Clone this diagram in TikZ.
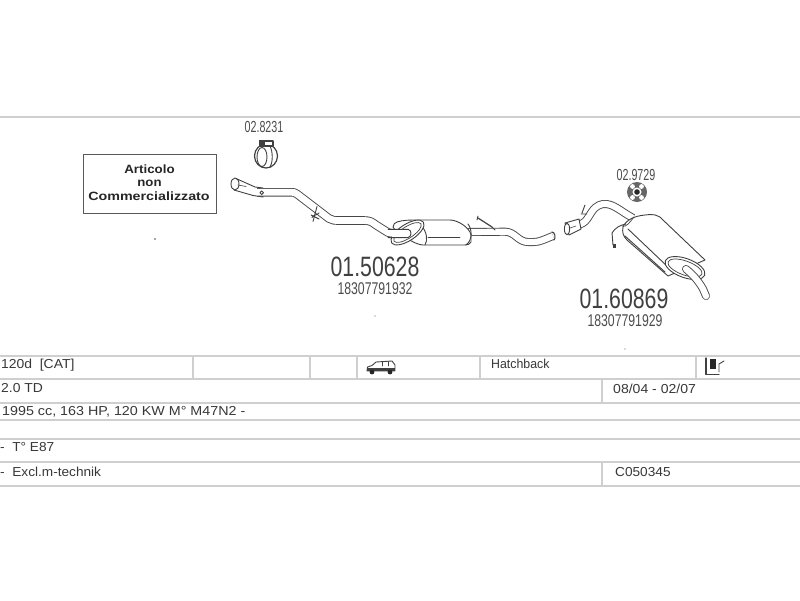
\documentclass[tikz,border=0pt]{standalone}
\usepackage{fontspec}
\setmainfont{Liberation Sans}
\newcommand{\sqz}[2]{\scalebox{#1}[1]{#2}}
\tikzset{
 rule/.style={draw=black!19,line width=1.8pt},
 ink/.style={draw=black!75,line width=.9pt,line cap=round,line join=round},
 cell/.style={anchor=west,inner sep=0pt,text=black!78,font=\fontsize{13}{14}\selectfont},
 part/.style={inner sep=0pt,text=black!75,font=\fontsize{28}{28}\selectfont},
 oem/.style={inner sep=0pt,text=black!70,font=\fontsize{17}{17}\selectfont},
 small/.style={inner sep=0pt,text=black!70,font=\fontsize{16}{18}\selectfont},
 boxt/.style={inner sep=0pt,text=black!85,font=\bfseries\fontsize{12}{13}\selectfont},
 pipeo/.style={draw=black!72,line width=8.6pt,line cap=butt,line join=round},
 pipei/.style={draw=white,line width=6.8pt,line cap=butt,line join=round},
 pipeor/.style={draw=black!72,line width=8pt,line cap=round,line join=round},
 pipeir/.style={draw=white,line width=6.2pt,line cap=round,line join=round},
 body/.style={ink,fill=white},
}
\begin{document}
\begin{tikzpicture}[x=1pt,y=-1pt]
\useasboundingbox (0,0) rectangle (800,600);
\fill[white] (0,0) rectangle (800,600);
% rules
\draw[rule] (0,117) -- (800,117);
\foreach \y in {356,379,403,420,439,462,486} \draw[rule] (0,\y) -- (800,\y);
\foreach \x in {193,310,357,480,696} \draw[rule] (\x,356) -- (\x,379);
\draw[rule] (602,379) -- (602,403);
\draw[rule] (602,462) -- (602,486);
% notice box
\node[draw=black!65,line width=1pt,minimum width=133pt,minimum height=59pt,inner sep=0pt] (notice) at (149.5,183.5) {};
\node[boxt] (n1) at (149.5,169) {\sqz{1.11}{Articolo}};
\node[boxt] (n2) at (149.5,183) {\sqz{1.1}{non}};
\node[boxt] (n3) at (149,196.5) {\sqz{1.19}{Commercializzato}};
\fill[black!70] (155,239) circle (.9);
\fill[black!60] (375,316) circle (.7);
\fill[black!60] (625,349) circle (.7);
% labels
\node[small] (c1) at (264,127) {\sqz{.67}{02.8231}};
\node[small] (c2) at (636,175) {\sqz{.67}{02.9729}};
\node[part] (p1) at (375,267) {\sqz{.76}{01.50628}};
\node[oem] (o1) at (375,289) {\sqz{.72}{18307791932}};
\node[part] (p2) at (624,299) {\sqz{.76}{01.60869}};
\node[oem] (o2) at (625,321) {\sqz{.72}{18307791929}};
% flange
\draw[body] (236,178.5) -- (255,187) -- (263,188) -- (263,197) -- (253,195.5) -- (234,190) -- cycle;
% front pipe
\def\pa{(257,192.3) -- (290,192.3) .. controls (294,192.3) and (295,192.5) .. (297,194) -- (329,218.5) .. controls (332,220.5) and (335,220.5) .. (340,220.5) -- (364,220.5) .. controls (370,220.5) and (372,222) .. (376,225) -- (388,232.5) .. controls (391,234) and (394,233.5) .. (400,233.5)}
\draw[pipeo] \pa; \draw[pipei] \pa;
\def\pb{(468,232) -- (505,231.7) .. controls (515,231.7) and (518,242) .. (528,242) -- (534,242) .. controls (540,242) and (545,239) .. (553,236)}
\draw[pipeo,line width=8pt] \pb; \draw[pipei,line width=6.2pt] \pb;
\draw[ink,line width=1.1pt] (551.8,232) .. controls (555,231.5) and (556,238.5) .. (554,240);
\draw[body] (235,184) ellipse[x radius=4,y radius=6];
\draw[ink,line width=.6pt] (238,185) -- (246,186.5);
\draw[body] (261.7,192.7) circle (1.8);
% hanger 1
\draw[ink] (317,206.5) -- (313,221.5);
\draw[ink] (312,217.5) .. controls (314,214) and (316,216) .. (319,213) (311,215) -- (319,219);
% muffler 1
\draw[body] (397,222) .. controls (403,220) and (410,220) .. (417,220) -- (450,220) .. controls (458,220) and (470,228) .. (471,235) -- (471,242) .. controls (470,244) and (468,245) .. (465,245) -- (423,245) .. controls (415,245) and (395,232) .. (393,227) .. controls (393,224) and (395,223) .. (397,222) -- cycle;
\draw[ink] (468,224) .. controls (472,229) and (473,240) .. (466,245);
\draw[ink] (421,225) .. controls (427,232) and (428,240) .. (425,245);
\draw[ink,line width=.7pt] (428,237) -- (460,237);
\draw[body,rotate around={33:(407.5,232.5)}] (407.5,232.5) ellipse[x radius=19,y radius=8.2];
\draw[ink,line width=.7pt,rotate around={33:(407.5,232.5)}] (407.5,232.5) ellipse[x radius=16,y radius=5.8];
\draw[pipei] (392,233.5) -- (406,233.5);
\draw[ink] (388,229.3) -- (408,229.3) .. controls (412,230) and (412,236.5) .. (408,237.6) -- (388,237.6);
% hanger 2
\draw[ink,line width=1.2pt] (478,218) -- (492,227);
\draw[ink] (478,216) -- (477,220) (492,227) -- (495,230);
% clamp 1
\draw[ink,line width=1.2pt] (266,156) ellipse[x radius=11.5,y radius=12];
\draw[ink] (262,157) ellipse[x radius=5,y radius=9.5];
\draw[ink] (270,146) .. controls (273,152) and (273,162) .. (270,167);
\draw[ink,line width=1.1pt,fill=white] (260,141) rectangle (273,146);
\fill[black!75] (259,140) rectangle (265,145);
% clamp 2
\fill[black!60] (637,192) circle (10);
\fill[white] (632.5,186.5) circle (2.4) (641.5,186.5) circle (2.4) (632.5,197.5) circle (2.4) (641.5,197.5) circle (2.4);
\fill[white] (637,192) circle (4.5);
\fill[black!85] (637,192) circle (2.8);
% rear pipe
\def\pc{(572,228) -- (583,223) .. controls (590,219) and (591,206) .. (603,204) .. controls (613,203) and (620,211) .. (633,218)}
\draw[pipeo,line width=8pt] \pc; \draw[pipei,line width=6.2pt] \pc;
\draw[body] (565,223) -- (579,219) -- (581,229) -- (569,235) -- cycle;
\draw[body] (567,229) ellipse[x radius=2.6,y radius=5.8];
\draw[ink,line width=.6pt] (570,228) -- (576,226);
\draw[ink] (585,205) -- (582,213) (581,214) -- (587,214);
% muffler 2
\draw[body] (623,227) .. controls (626,220) and (634,216) .. (645,215) .. controls (652,214) and (658,214) .. (663,220) -- (705,260) -- (668,276) -- (627,240) .. controls (623,236) and (622,232) .. (623,227) -- cycle;
\draw[ink] (628,229) -- (668,267);
\draw[ink] (625,236) -- (665,272);
\draw[body,rotate around={-20:(685,268)}] (685,268) ellipse[x radius=21,y radius=9.5];
\draw[ink,line width=.7pt,rotate around={-20:(685,268)}] (685,268) ellipse[x radius=18,y radius=7];
% tail pipe
\def\pd{(686,269) .. controls (692,274) and (698,280) .. (703,289) -- (706,296)}
\draw[pipeor] \pd; \draw[pipeir] \pd;
% hanger 3
\draw[ink] (626,224) .. controls (620,225) and (615,228) .. (612,233) -- (613,245);
\fill[black!75] (613,244) rectangle (616,248);
\draw[ink,line width=.7pt] (622,226) .. controls (626,228) and (630,222) .. (634,217);
% table text
\node[cell] (t1) at (1,365) {\sqz{1.07}{120d\ \ [CAT]}};
\node[cell] (t2) at (1,388) {\sqz{1.07}{2.0 TD}};
\node[cell] (t3) at (2,412) {\sqz{1.1}{1995 cc, 163 HP, 120 KW M° M47N2 -}};
\node[cell] (t4) at (0,447.5) {\sqz{1.05}{-\ \ T° E87}};
\node[cell] (t5) at (0,472) {\sqz{1.05}{-\ \ Excl.m-technik}};
\node[cell] (t6) at (491,363.5) {\sqz{.95}{Hatchback}};
\node[cell] (t7) at (613,388.5) {\sqz{1.08}{08/04 - 02/07}};
\node[cell] (t8) at (615,472) {\sqz{1.05}{C050345}};
% car icon
\draw[ink,fill=white] (367,371) -- (367.5,367) -- (372,365.5) -- (376,362) -- (392,361) -- (395,365) -- (395,371) -- cycle;
\fill[black!75] (367,367.5) rectangle (395,371);
\fill[black!85] (372,372) circle (2.4) (390,372) circle (2.4);
\draw[ink,line width=.6pt] (382,361.5) -- (382,366) (388,361.5) -- (388,366);
% fuel icon
\draw[ink,line width=1.1pt] (706,358) -- (706,374.5) -- (719,374.5);
\fill[black!85] (710,359) rectangle (716,369);
\draw[ink] (719,372) -- (719,364) -- (724,361);
\end{tikzpicture}
\end{document}
